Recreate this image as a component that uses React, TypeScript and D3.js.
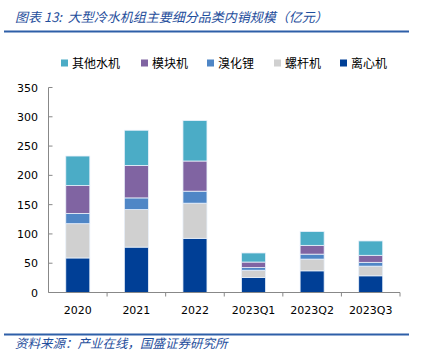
import React from "react";
import * as d3 from "d3";

const categories = ["2020", "2021", "2022", "2023Q1", "2023Q2", "2023Q3"];
const centrifugal = [59, 77.5, 92.5, 25.5, 37, 28.5];
const screw = [58.5, 64, 60, 12.5, 20, 16.5];
const libr = [17.5, 20, 20.5, 4.5, 8.5, 6.5];
const modular = [47.5, 55.5, 51.5, 9.5, 15, 12];
const other = [50.5, 60, 69, 15.5, 23.5, 24.5];
const yTicks = [0, 50, 100, 150, 200, 250, 300, 350];

const seriesNames = ["离心机", "螺杆机", "溴化锂", "模块机", "其他水机"];
const seriesValues = [centrifugal, screw, libr, modular, other];
const colors = ["#003f96", "#d0d0d0", "#4f86c6", "#8064a2", "#4bacc6"];
const legendOrder = [4, 3, 2, 1, 0];

export default function App() {
  const W = 424, H = 359;
  const left = 48.5, right = 400, top = 87.5, bottom = 292.5;
  const x = d3.scaleBand<string>().domain(categories).range([left, right]).paddingInner(0.59).paddingOuter(0.295);
  const y = d3.scaleLinear().domain([0, 350]).range([bottom, top]);
  const step = x.step();
  const blue = "#1f4e9c";
  const legendX = [61, 141, 207, 274, 340];

  return (
    <svg width={W} height={H} style={{ position: "absolute", left: 0, top: 0, background: "#fff" }}>
      <text x={15} y={22} fontSize={13} fontStyle="italic" fill={blue} fontFamily="'Noto Sans CJK SC', sans-serif" style={{ whiteSpace: "pre" }}>图表 13:  大型冷水机组主要细分品类内销规模（亿元）</text>
      <line x1={4} x2={409} y1={31.5} y2={31.5} stroke="#2e5fa8" strokeWidth={2} />

      {legendOrder.map((si, i) => (
        <g key={si} transform={`translate(${legendX[i]},63)`}>
          <rect x={0} y={-3.5} width={7} height={7} fill={colors[si]} />
          <text x={11} y={4.5} fontSize={12} fill="#000" fontFamily="'Noto Sans CJK SC', sans-serif">{seriesNames[si]}</text>
        </g>
      ))}

      {categories.map((c, ci) => {
        let acc = 0;
        return (
          <g key={c}>
            {seriesValues.map((vals, si) => {
              const y0 = acc;
              acc += vals[ci];
              return (
                <rect key={si} x={x(c)} width={x.bandwidth()} y={y(acc)} height={y(y0) - y(acc)}
                  fill={colors[si]} stroke="#e8f0fa" strokeWidth={0.8} />
              );
            })}
          </g>
        );
      })}

      {/* axes */}
      <line x1={left} x2={left} y1={top} y2={bottom} stroke="#888" strokeWidth={1} />
      <line x1={left} x2={right} y1={bottom} y2={bottom} stroke="#888" strokeWidth={1} />
      {yTicks.map((t) => (
        <g key={t}>
          <line x1={left} x2={left + 4} y1={y(t)} y2={y(t)} stroke="#888" />
          <text x={38} y={y(t) + 4} textAnchor="end" fontSize={11} fontFamily="'DejaVu Sans', sans-serif" fill="#000">{t}</text>
        </g>
      ))}
      {categories.map((c, i) => (
        <line key={c} x1={left + step * (i + 1)} x2={left + step * (i + 1)} y1={bottom} y2={bottom + 4} stroke="#888" />
      ))}
      {categories.map((c) => (
        <text key={c} x={(x(c) as number) + x.bandwidth() / 2} y={314} textAnchor="middle" fontSize={11} fontFamily="'DejaVu Sans', sans-serif" fill="#000">{c}</text>
      ))}

      <line x1={4} x2={409} y1={334.5} y2={334.5} stroke="#2e5fa8" strokeWidth={2} />
      <text x={15} y={348} fontSize={12.5} fontStyle="italic" fill={blue} fontFamily="'Noto Sans CJK SC', sans-serif">资料来源：产业在线，国盛证券研究所</text>
    </svg>
  );
}
